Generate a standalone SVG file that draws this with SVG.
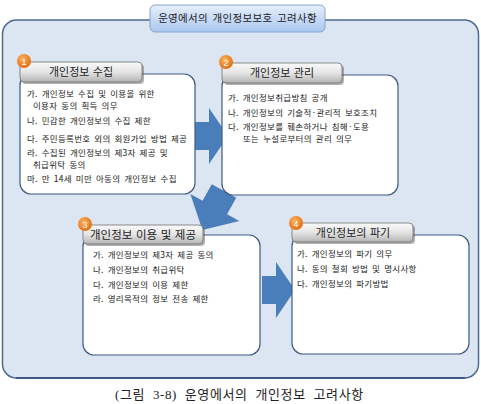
<svg xmlns="http://www.w3.org/2000/svg" width="481" height="404" viewBox="0 0 481 404">
<defs>
<linearGradient id="tabG" x1="0" y1="0" x2="0" y2="1"><stop offset="0" stop-color="#fafafa"/><stop offset="0.5" stop-color="#e4e4e4"/><stop offset="1" stop-color="#b4b4b4"/></linearGradient>
<linearGradient id="titleG" x1="0" y1="0" x2="0" y2="1"><stop offset="0" stop-color="#e6effc"/><stop offset="1" stop-color="#aac6ef"/></linearGradient>
<radialGradient id="badgeG" cx="0.4" cy="0.35" r="0.7"><stop offset="0" stop-color="#fbb35e"/><stop offset="1" stop-color="#e2690c"/></radialGradient>
<path id="arrowShape" d="M0,-14 L14,-14 L14,-28 L33,0 L14,28 L14,14 L0,14 Z"/>
</defs>
<style>
.panel{fill:#dce6f2;stroke:#4d6a93;stroke-width:1.5}
.body{fill:#ffffff;stroke:#3d5a85;stroke-width:1.2}
.tab{fill:url(#tabG);stroke:#707070;stroke-width:0.8}
.tabsh{fill:#555;opacity:0.45}
.badge{fill:url(#badgeG)}
.bnum{font-family:"Liberation Sans",sans-serif;font-size:9px;fill:#fff;text-anchor:middle}
.hd{font-family:"Noto Sans CJK KR",sans-serif;font-size:11px;fill:#222;text-anchor:middle;word-spacing:1px}
.tx{font-family:"Noto Sans CJK KR",sans-serif;font-size:8.5px;fill:#222;word-spacing:1.7px;letter-spacing:0.3px}
.arr{fill:#4a7ebb}
.cap{font-family:"Liberation Serif","Noto Sans CJK KR",serif;font-size:13px;fill:#222;word-spacing:4px;letter-spacing:0.6px}
</style>
<rect x="2.5" y="20" width="476" height="358" rx="14" class="panel"/>
<line x1="16" y1="378" x2="465" y2="378" stroke="#3f5a82" stroke-width="2"/>
<g id="title">
<rect x="150" y="5" width="175" height="27" rx="5" fill="url(#titleG)" stroke="#86a4cc" stroke-width="1"/>
<text x="237.5" y="22" class="hd" style="font-size:10.5px;word-spacing:2px;letter-spacing:0.3px">운영에서의 개인정보보호 고려사항</text>
</g>
<g id="connectors">
<use href="#arrowShape" class="arr" transform="translate(195,136)"/>
<use href="#arrowShape" class="arr" transform="translate(224,191) rotate(119) scale(1.35,1)"/>
<use href="#arrowShape" class="arr" transform="translate(262,290)"/>
</g>
<g id="node1">
<rect x="20" y="74" width="175" height="120" rx="11" class="body"/>
<rect x="22" y="64" width="122" height="20" rx="4" class="tabsh"/>
<rect x="20" y="62" width="122" height="20" rx="4" class="tab"/>
<circle cx="24" cy="61" r="7" class="badge"/>
<text x="24" y="64.5" class="bnum">1</text>
<text x="81" y="76" class="hd">개인정보 수집</text>
<text class="tx"><tspan x="27" y="97">가. 개인정보 수집 및 이용을 위한</tspan><tspan x="33" y="109">이용자 동의 획득 의무</tspan><tspan x="27" y="124">나. 민감한 개인정보의 수집 제한</tspan><tspan x="27" y="142">다. 주민등록번호 외의 회원가입 방법 제공</tspan><tspan x="27" y="156">라. 수집된 개인정보의 제3자 제공 및</tspan><tspan x="33" y="168">취급위탁 동의</tspan><tspan x="27" y="182">마. 만 14세 미만 아동의 개인정보 수집</tspan></text>
</g>
<g id="node2">
<rect x="222" y="75" width="176" height="120" rx="11" class="body"/>
<rect x="224" y="65" width="120" height="20" rx="4" class="tabsh"/>
<rect x="222" y="63" width="120" height="20" rx="4" class="tab"/>
<circle cx="226" cy="62" r="7" class="badge"/>
<text x="226" y="65.5" class="bnum">2</text>
<text x="282" y="77" class="hd">개인정보 관리</text>
<text class="tx"><tspan x="228" y="101">가. 개인정보취급방침 공개</tspan><tspan x="228" y="116">나. 개인정보의 기술적·관리적 보호조치</tspan><tspan x="228" y="130">다. 개인정보를 훼손하거나 침해·도용</tspan><tspan x="243" y="142">또는  누설로부터의 관리 의무</tspan></text>
</g>
<g id="node3">
<rect x="83" y="235" width="177" height="120" rx="11" class="body"/>
<rect x="85" y="227" width="120" height="19" rx="4" class="tabsh"/>
<rect x="83" y="225" width="120" height="19" rx="4" class="tab"/>
<circle cx="85" cy="224" r="7" class="badge"/>
<text x="85" y="227.5" class="bnum">3</text>
<text x="143" y="239" class="hd" style="font-size:11.5px">개인정보 이용 및 제공</text>
<text class="tx"><tspan x="93" y="258">가. 개인정보의 제3자 제공 동의</tspan><tspan x="93" y="273">나. 개인정보의 취급위탁</tspan><tspan x="93" y="288">다. 개인정보의 이용 제한</tspan><tspan x="93" y="302">라. 영리목적의 정보 전송 제한</tspan></text>
</g>
<g id="node4">
<rect x="292" y="235" width="177" height="119" rx="11" class="body"/>
<rect x="294" y="225" width="121" height="19" rx="4" class="tabsh"/>
<rect x="292" y="223" width="121" height="19" rx="4" class="tab"/>
<circle cx="296" cy="223" r="7" class="badge"/>
<text x="296" y="226.5" class="bnum">4</text>
<text x="353" y="237" class="hd">개인정보의 파기</text>
<text class="tx"><tspan x="297" y="257">가. 개인정보의 파기 의무</tspan><tspan x="297" y="272">나. 동의 철회 방법 및 명시사항</tspan><tspan x="297" y="287">다. 개인정보의 파기방법</tspan></text>
</g>
<text x="115" y="399" class="cap">(그림 3-8) 운영에서의 개인정보 고려사항</text>
</svg>
